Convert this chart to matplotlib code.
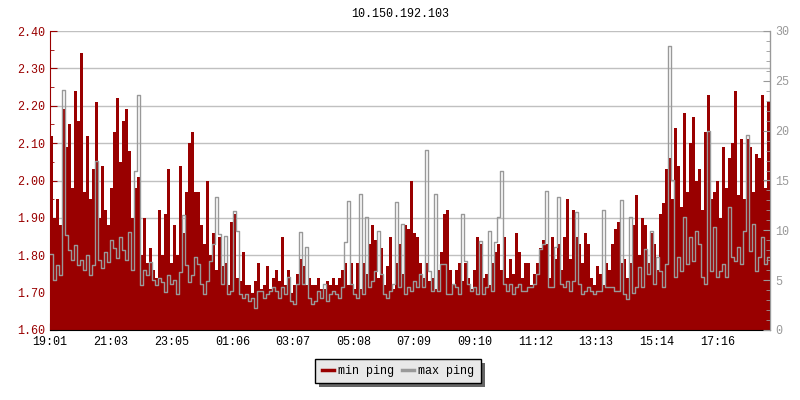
import numpy as np
import matplotlib
matplotlib.use("Agg")
import matplotlib.pyplot as plt
from matplotlib.ticker import MultipleLocator, FixedLocator
from matplotlib.lines import Line2D

title = "10.150.192.103"
tick_labels = ["19:01", "21:03", "23:05", "01:06", "03:07", "05:08",
               "07:09", "09:10", "11:12", "13:13", "15:14", "17:16"]
span_minutes = 1440

# min ping (left axis, ms), one value per ~6 minutes
min_ping = [
    2.12, 1.90, 1.95, 1.88, 2.19, 2.09, 2.15, 1.98, 2.24, 2.16, 2.34, 1.97,
    2.12, 1.95, 2.03, 2.21, 1.90, 2.04, 1.92, 1.88, 1.98, 2.13, 2.22, 2.05,
    2.16, 2.19, 2.08, 1.90, 1.98, 2.01, 1.80, 1.90, 1.78, 1.82, 1.76, 1.74,
    1.92, 1.80, 1.91, 2.03, 1.78, 1.88, 1.80, 2.04, 1.86, 1.97, 2.10, 2.13,
    1.97, 1.97, 1.88, 1.83, 2.00, 1.80, 1.86, 1.76, 1.85, 1.77, 1.78, 1.72,
    1.89, 1.91, 1.74, 1.73, 1.81, 1.72, 1.72, 1.70, 1.73, 1.78, 1.71, 1.72,
    1.77, 1.71, 1.74, 1.76, 1.73, 1.85, 1.72, 1.76, 1.70, 1.72, 1.75, 1.79,
    1.77, 1.72, 1.74, 1.72, 1.72, 1.74, 1.71, 1.71, 1.73, 1.72, 1.74, 1.72,
    1.74, 1.76, 1.78, 1.72, 1.78, 1.71, 1.78, 1.71, 1.78, 1.75, 1.83, 1.88,
    1.84, 1.74, 1.82, 1.72, 1.77, 1.85, 1.71, 1.78, 1.83, 1.75, 1.88, 1.87,
    2.00, 1.86, 1.85, 1.78, 1.74, 1.78, 1.73, 1.74, 1.71, 1.76, 1.81, 1.91,
    1.92, 1.76, 1.72, 1.76, 1.78, 1.73, 1.78, 1.74, 1.71, 1.76, 1.85, 1.83,
    1.74, 1.75, 1.72, 1.78, 1.81, 1.83, 1.76, 1.85, 1.74, 1.79, 1.75, 1.86,
    1.81, 1.74, 1.78, 1.78, 1.72, 1.75, 1.78, 1.82, 1.84, 1.83, 1.74, 1.85,
    1.79, 1.83, 1.76, 1.85, 1.95, 1.79, 1.92, 1.85, 1.83, 1.78, 1.86, 1.83,
    1.74, 1.72, 1.77, 1.75, 1.72, 1.78, 1.76, 1.83, 1.87, 1.89, 1.78, 1.79,
    1.74, 1.78, 1.88, 1.96, 1.80, 1.90, 1.88, 1.78, 1.86, 1.83, 1.76, 1.91,
    1.94, 2.03, 2.06, 1.95, 2.14, 2.04, 1.93, 2.18, 1.97, 2.10, 2.17, 2.00,
    2.03, 1.92, 2.13, 2.23, 1.95, 1.97, 2.00, 1.90, 2.09, 1.98, 2.06, 2.10,
    2.24, 1.96, 2.11, 1.95, 2.11, 2.09, 1.97, 2.07, 2.06, 2.23, 1.98, 2.21,
]

# max ping (right axis, ms)
max_ping = [
    7.6, 5.0, 6.5, 5.5, 24.1, 9.5, 8.0, 7.0, 8.5, 6.5, 7.0, 6.0,
    7.5, 5.5, 6.5, 17.0, 7.0, 6.2, 7.8, 6.8, 9.0, 8.2, 7.2, 9.3,
    8.0, 7.0, 9.8, 6.0, 16.0, 23.6, 4.5, 6.0, 5.5, 6.8, 5.0, 4.5,
    5.2, 4.8, 3.8, 5.5, 4.6, 5.0, 3.6, 5.8, 11.5, 6.5, 4.8, 5.5,
    7.3, 6.6, 4.6, 3.6, 4.9, 6.9, 8.6, 13.3, 9.6, 4.6, 9.4, 3.6,
    3.9, 11.9, 9.9, 3.6, 3.2, 3.6, 2.9, 3.2, 2.2, 3.9, 3.9, 3.2,
    3.6, 3.9, 4.3, 3.9, 3.2, 4.3, 3.6, 5.3, 2.9, 2.6, 4.6, 9.8,
    4.6, 8.3, 3.2, 2.6, 2.9, 3.9, 3.2, 4.6, 2.9, 3.6, 3.9, 3.6,
    3.2, 4.3, 8.8, 12.9, 4.6, 3.6, 3.2, 13.6, 3.6, 11.3, 4.3, 4.9,
    5.9, 9.9, 5.6, 3.6, 3.2, 3.9, 4.6, 12.8, 4.3, 10.6, 3.6, 4.3,
    3.9, 4.9, 4.3, 5.6, 4.3, 18.1, 5.9, 3.9, 13.6, 3.9, 6.6, 6.6,
    3.6, 3.6, 4.6, 4.3, 3.6, 11.6, 6.9, 4.6, 3.9, 4.3, 3.6, 8.9,
    3.6, 4.3, 9.9, 3.9, 8.8, 11.3, 16.0, 4.6, 3.9, 4.6, 3.6, 4.3,
    4.6, 3.9, 3.9, 4.3, 4.3, 4.6, 5.6, 8.1, 8.6, 13.9, 4.3, 4.3,
    8.3, 13.3, 4.6, 4.3, 4.9, 3.9, 4.9, 11.8, 4.6, 3.6, 3.9, 4.3,
    3.9, 3.6, 3.9, 3.9, 12.0, 4.3, 4.3, 4.3, 3.9, 3.9, 13.0, 3.6,
    3.1, 11.3, 3.7, 4.3, 6.3, 4.3, 8.1, 5.6, 9.9, 4.6, 7.3, 5.9,
    4.3, 6.6, 28.5, 15.0, 5.3, 7.3, 5.9, 11.3, 6.6, 9.3, 6.9, 9.9,
    8.6, 5.3, 4.6, 20.0, 5.9, 10.3, 5.3, 5.9, 6.6, 5.3, 12.3, 7.3,
    6.9, 8.3, 6.6, 9.9, 19.6, 7.9, 10.6, 5.9, 7.3, 9.3, 6.6, 7.3,
]

RED = "#990000"
GRAY = "#999999"
plt.rcParams["font.family"] = ["Liberation Mono", "DejaVu Sans Mono"]

n = len(min_ping)
step = span_minutes / n
x_edges = np.arange(n + 1) * step
red_vals = np.append(min_ping, min_ping[-1])
gray_vals = np.append(max_ping, max_ping[-1])


def to_minutes(lbl, start="19:01"):
    h, m = map(int, lbl.split(":"))
    h0, m0 = map(int, start.split(":"))
    return ((h * 60 + m) - (h0 * 60 + m0)) % 1440


tick_pos = [to_minutes(t) for t in tick_labels]

fig = plt.figure(figsize=(8, 4), dpi=100)
ax = fig.add_axes([50 / 800, 70 / 400, 720 / 800, 299 / 400])
ax.set_xlim(0, span_minutes)
ax.set_ylim(1.60, 2.40)
ax.set_axisbelow(True)
ax.yaxis.grid(True, color="#c0c0c0", lw=1)

ax.fill_between(x_edges, 1.60, red_vals, step="post", color=RED, lw=0)

ax2 = ax.twinx()
ax2.set_ylim(0, 30)
ax2.step(x_edges, gray_vals, where="post", color=GRAY, lw=1)

ax.spines["top"].set_visible(False)
ax2.spines["top"].set_visible(False)
ax.spines["left"].set_color(RED)
ax.spines["bottom"].set_color("black")
ax2.spines["right"].set_color(GRAY)
ax2.spines["left"].set_visible(False)
ax2.spines["bottom"].set_visible(False)

yt = np.round(np.arange(1.6, 2.401, 0.1), 2)
ax.set_yticks(yt)
ax.set_yticklabels([f"{v:.2f}" for v in yt])
ax.yaxis.set_minor_locator(MultipleLocator(0.05))
ax.tick_params(axis="y", which="both", direction="in", colors=RED,
               labelsize=8.5)
ax.tick_params(axis="y", which="major", length=5)
ax.tick_params(axis="y", which="minor", length=3)

ax.xaxis.set_major_locator(FixedLocator(tick_pos))
ax.set_xticklabels(tick_labels)
ax.tick_params(axis="x", direction="in", length=5, colors="black",
               labelsize=8.5, pad=4)

ax2.yaxis.set_major_locator(MultipleLocator(5))
ax2.yaxis.set_minor_locator(MultipleLocator(1))
ax2.tick_params(axis="y", which="both", direction="in", colors=GRAY,
                labelsize=8.5)
ax2.tick_params(axis="y", which="major", length=5)
ax2.tick_params(axis="y", which="minor", length=3)

fig.text(0.5, 1 - 14 / 400, title, ha="center", va="center",
         fontsize=8.5, color="black")

handles = [Line2D([], [], color=RED, lw=2.5),
           Line2D([], [], color=GRAY, lw=2.5)]
leg = fig.legend(handles, ["min ping", "max ping"], loc="center",
                 bbox_to_anchor=(398 / 800, 1 - 371 / 400), ncol=2,
                 frameon=True, fancybox=False, shadow=False,
                 handlelength=1.0, handletextpad=0.35, columnspacing=0.7,
                 fontsize=8.5, borderpad=0.55)
frame = leg.get_frame()
frame.set_facecolor("#e8e8e8")
frame.set_edgecolor("black")
frame.set_linewidth(1)
frame.set_alpha(1)

fig.canvas.draw()
bb = leg.get_window_extent()
shadow_ax = fig.add_axes([0, 0, 1, 1], zorder=-1)
shadow_ax.set_axis_off()
shadow_ax.set_xlim(0, fig.bbox.width)
shadow_ax.set_ylim(0, fig.bbox.height)
shadow_ax.add_patch(plt.Rectangle((bb.x0 + 4, bb.y0 - 4), bb.width, bb.height,
                                  color="#666666", lw=0))
leg.set_zorder(10)

fig.savefig("out.png", dpi=100)
